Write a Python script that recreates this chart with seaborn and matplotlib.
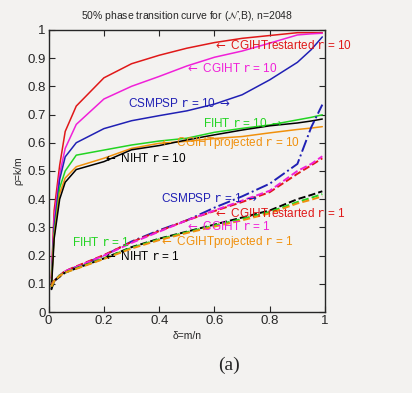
import matplotlib
matplotlib.use("Agg")
import matplotlib.pyplot as plt
import seaborn as sns

delta = [0.01, 0.02, 0.04, 0.06, 0.1, 0.2, 0.3, 0.4, 0.5, 0.6, 0.7, 0.8, 0.9, 0.95, 0.99]

# r = 10 (solid)
cgiht_restarted_10 = [0.12, 0.36, 0.52, 0.64, 0.73, 0.83, 0.88, 0.91, 0.935, 0.955, 0.97, 0.98, 0.99, 0.99, 0.99]
cgiht_10 = [0.12, 0.33, 0.49, 0.58, 0.665, 0.755, 0.80, 0.835, 0.872, 0.903, 0.925, 0.953, 0.982, 0.986, 0.988]
csmpsp_10 = [0.10, 0.30, 0.47, 0.55, 0.60, 0.65, 0.678, 0.696, 0.713, 0.737, 0.77, 0.823, 0.885, 0.93, 0.975]
fiht_10 = [0.10, 0.28, 0.44, 0.50, 0.556, 0.574, 0.592, 0.606, 0.616, 0.637, 0.651, 0.663, 0.681, 0.69, 0.699]
cgiht_projected_10 = [0.09, 0.27, 0.42, 0.475, 0.515, 0.545, 0.58, 0.598, 0.605, 0.615, 0.622, 0.635, 0.647, 0.652, 0.657]
niht_10 = [0.08, 0.26, 0.40, 0.46, 0.505, 0.533, 0.575, 0.59, 0.61, 0.628, 0.645, 0.66, 0.670, 0.677, 0.684]

# r = 1 (dashed)
csmpsp_1 = [0.10, 0.11, 0.13, 0.145, 0.16, 0.20, 0.25, 0.29, 0.325, 0.37, 0.41, 0.455, 0.525, 0.655, 0.735]
cgiht_1 = [0.09, 0.11, 0.13, 0.145, 0.16, 0.20, 0.245, 0.285, 0.325, 0.36, 0.395, 0.43, 0.50, 0.525, 0.552]
cgiht_restarted_1 = [0.10, 0.11, 0.13, 0.145, 0.162, 0.202, 0.248, 0.287, 0.325, 0.358, 0.39, 0.425, 0.49, 0.52, 0.545]
niht_1 = [0.08, 0.11, 0.125, 0.14, 0.155, 0.19, 0.23, 0.26, 0.285, 0.31, 0.335, 0.36, 0.40, 0.415, 0.428]
fiht_1 = [0.09, 0.11, 0.13, 0.14, 0.155, 0.19, 0.228, 0.258, 0.283, 0.307, 0.33, 0.355, 0.39, 0.405, 0.418]
cgiht_projected_1 = [0.09, 0.11, 0.128, 0.14, 0.153, 0.188, 0.225, 0.255, 0.28, 0.303, 0.325, 0.35, 0.385, 0.398, 0.41]

RED, MAG, BLUE, GREEN, ORANGE, BLACK = "#e01818", "#f020d8", "#2020b4", "#22d422", "#f0900c", "#000000"
BG = "#f3f2f0"

sns.set_style("ticks")
plt.rcParams["font.family"] = ["Liberation Sans", "DejaVu Sans"]
plt.rcParams["mathtext.fontset"] = "dejavusans"

fig = plt.figure(figsize=(4.12, 3.93), dpi=100, facecolor=BG)
ax = fig.add_axes([0.118, 0.206, 0.671, 0.718], facecolor=BG)

series = [
    (cgiht_restarted_10, RED, "-"), (cgiht_10, MAG, "-"), (csmpsp_10, BLUE, "-"),
    (fiht_10, GREEN, "-"), (cgiht_projected_10, ORANGE, "-"), (niht_10, BLACK, "-"),
    (csmpsp_1, BLUE, "-."), (cgiht_restarted_1, RED, "--"), (cgiht_1, MAG, "--"),
    (niht_1, BLACK, "--"), (fiht_1, GREEN, "--"), (cgiht_projected_1, ORANGE, "--"),
]
for vals, col, ls in series:
    lw = 1.1 if ls == "-" else 1.4
    sns.lineplot(x=delta, y=vals, color=col, linestyle=ls, linewidth=lw, ax=ax)

ax.set_xlim(0, 1)
ax.set_ylim(0, 1)
ax.set_xticks([0, 0.2, 0.4, 0.6, 0.8, 1])
ax.set_xticklabels(["0", "0.2", "0.4", "0.6", "0.8", "1"])
ax.set_yticks([i / 10 for i in range(11)])
ax.set_yticklabels(["0"] + [f"0.{i}" for i in range(1, 10)] + ["1"])
ax.tick_params(direction="in", length=4, width=0.8, top=True, right=True, labelsize=9.5, pad=2)
for s in ax.spines.values():
    s.set_linewidth(1.0)
    s.set_visible(True)

ax.set_title(r"50% phase transition curve for ($\mathcal{N}$,B), n=2048", fontsize=7.5, pad=8)
ax.set_xlabel("δ=m/n", fontsize=7.5, labelpad=3)
ax.set_ylabel("ρ=k/m", fontsize=7.5, labelpad=3)

L, R = r"$\leftarrow$", r"$\rightarrow$"
labels = [
    (0.596, 0.943, L + r" CGIHTrestarted $\mathtt{r}$ = 10", RED),
    (0.493, 0.864, L + r" CGIHT $\mathtt{r}$ = 10", MAG),
    (0.288, 0.740, r"CSMPSP $\mathtt{r}$ = 10 " + R, BLUE),
    (0.557, 0.667, r"FIHT $\mathtt{r}$ = 10 " + R, GREEN),
    (0.40, 0.598, L + r" CGIHTprojected $\mathtt{r}$ = 10", ORANGE),
    (0.198, 0.545, L + r" NIHT $\mathtt{r}$ = 10", BLACK),
    (0.406, 0.403, r"CSMPSP $\mathtt{r}$ = 1 " + R, BLUE),
    (0.596, 0.348, L + r" CGIHTrestarted $\mathtt{r}$ = 1", RED),
    (0.493, 0.304, L + r" CGIHT $\mathtt{r}$ = 1", MAG),
    (0.083, 0.247, r"FIHT $\mathtt{r}$ = 1", GREEN),
    (0.40, 0.249, L + r" CGIHTprojected $\mathtt{r}$ = 1", ORANGE),
    (0.198, 0.196, L + r" NIHT $\mathtt{r}$ = 1", BLACK),
]
for x, y, t, c in labels:
    ax.text(x, y, t, color=c, fontsize=8.5, ha="left", va="center", clip_on=False)

fig.text(0.555, 0.071, "(a)", fontsize=14, family="Liberation Serif", ha="center", va="center")

plt.savefig("out.png", dpi=100, facecolor=BG)
